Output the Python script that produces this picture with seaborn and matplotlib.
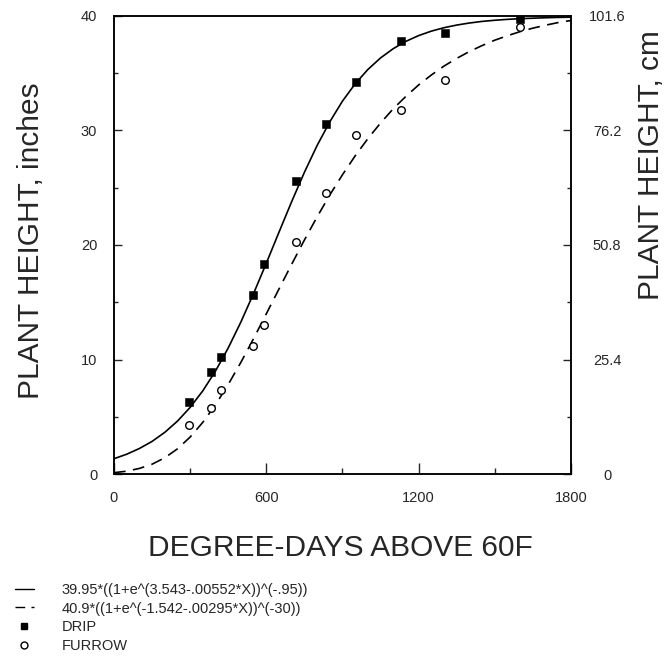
import matplotlib
matplotlib.use("Agg")
import matplotlib.pyplot as plt
from matplotlib.lines import Line2D
from matplotlib.ticker import MultipleLocator, FixedLocator
import seaborn as sns
import pandas as pd

# datos
grados_dia = [296, 381, 423, 546, 590, 717, 835, 955, 1132, 1303, 1601]
altura_goteo = [6.3, 8.9, 10.2, 15.6, 18.3, 25.6, 30.6, 34.2, 37.8, 38.5, 39.7]
altura_surco = [4.3, 5.8, 7.3, 11.2, 13.0, 20.3, 24.5, 29.6, 31.8, 34.4, 39.0]

# curvas ajustadas, leidas cada 50 grados-dia
curva_x = [0, 50, 100, 150, 200, 250, 300, 350, 400, 450, 500, 550, 600, 650,
           700, 750, 800, 850, 900, 950, 1000, 1050, 1100, 1150, 1200, 1250,
           1300, 1350, 1400, 1450, 1500, 1550, 1600, 1650, 1700, 1750, 1800]
curva_goteo = [1.34, 1.73, 2.23, 2.85, 3.64, 4.62, 5.82, 7.27, 9.00, 11.01,
               13.28, 15.77, 18.41, 21.12, 23.79, 26.34, 28.68, 30.75, 32.56,
               34.07, 35.32, 36.33, 37.14, 37.78, 38.28, 38.67, 38.97, 39.20,
               39.38, 39.52, 39.62, 39.70, 39.76, 39.80, 39.84, 39.87, 39.89]
curva_surco = [0.12, 0.25, 0.49, 0.86, 1.42, 2.20, 3.23, 4.52, 6.05, 7.82,
               9.76, 11.83, 13.99, 16.16, 18.32, 20.43, 22.45, 24.36, 26.13,
               27.78, 29.28, 30.65, 31.89, 32.98, 33.97, 34.84, 35.62, 36.29,
               36.89, 37.41, 37.88, 38.27, 38.63, 38.93, 39.19, 39.42, 39.60]

etiquetas_leyenda = ["39.95*((1+e^(3.543-.00552*X))^(-.95))",
                     "40.9*((1+e^(-1.542-.00295*X))^(-30))",
                     "DRIP", "FURROW"]
ticks_x = [0, 600, 1200, 1800]
ticks_cm = [0, 25.4, 50.8, 76.2, 101.6]
etiquetas_cm = ["0", "25.4", "50.8", "76.2", "101.6"]

sns.set_theme(style="ticks")
plt.rcParams['font.family'] = ['Liberation Sans', 'DejaVu Sans']
plt.rcParams['axes.edgecolor'] = 'black'
plt.rcParams['axes.linewidth'] = 1.1

puntos = pd.DataFrame({'x': grados_dia, 'goteo': altura_goteo, 'surco': altura_surco})
curvas = pd.DataFrame({'x': curva_x, 'goteo': curva_goteo, 'surco': curva_surco})

fig = plt.figure(figsize=(6.69, 6.63), dpi=100)
ax = fig.add_axes([0.1704, 0.285, 0.683, 0.691])

sns.lineplot(data=curvas, x='x', y='goteo', ax=ax, color='black', linewidth=1.2)
sns.lineplot(data=curvas, x='x', y='surco', ax=ax, color='black', linewidth=1.2,
             linestyle=(0, (7, 4.5)))
sns.scatterplot(data=puntos, x='x', y='goteo', ax=ax, marker='s', color='black',
                edgecolor='black', s=26, zorder=3)
sns.scatterplot(data=puntos, x='x', y='surco', ax=ax, marker='o', color='white',
                edgecolor='black', linewidth=1.0, s=30, zorder=3)

ax.set_xlim(0, 1800)
ax.set_ylim(0, 40)
ax.xaxis.set_major_locator(FixedLocator(ticks_x))
ax.xaxis.set_minor_locator(MultipleLocator(300))
ax.yaxis.set_major_locator(MultipleLocator(10))
ax.yaxis.set_minor_locator(MultipleLocator(5))
ax.tick_params(axis='x', which='major', direction='in', length=8, width=1, pad=12, labelsize=10.5)
ax.tick_params(axis='x', which='minor', direction='in', length=4, width=1)
ax.tick_params(axis='y', which='major', direction='in', length=6, width=1, pad=12, labelsize=10.5)
ax.tick_params(axis='y', which='minor', direction='in', length=3, width=1)

ax.set_xlabel("DEGREE-DAYS ABOVE 60F", fontsize=21.5)
ax.set_ylabel("PLANT HEIGHT, inches", fontsize=21.5)
ax.xaxis.set_label_coords(0.495, -0.13)
ax.yaxis.set_label_coords(-0.15, 0.51)

ax2 = ax.twinx()
ax2.set_ylim(0, 101.6)
ax2.yaxis.set_major_locator(FixedLocator(ticks_cm))
ax2.yaxis.set_minor_locator(MultipleLocator(12.7))
ax2.set_yticklabels(etiquetas_cm)
ax2.tick_params(axis='y', which='major', direction='in', length=6, width=1, pad=26, labelsize=10.5)
ax2.tick_params(axis='y', which='minor', direction='in', length=3, width=1)
for t in ax2.get_yticklabels():
    t.set_horizontalalignment('center')
ax2.set_ylabel("PLANT HEIGHT, cm", fontsize=21.5)
ax2.yaxis.set_label_coords(1.145, 0.675)

manejadores = [
    Line2D([], [], color='black', linewidth=1.0),
    Line2D([], [], color='black', linewidth=1.0, linestyle=(0, (7, 4.5))),
    Line2D([], [], color='black', marker='s', linestyle='none', markersize=4.5),
    Line2D([], [], color='black', marker='o', markerfacecolor='white',
           linestyle='none', markersize=5),
]
fig.legend(manejadores, etiquetas_leyenda, loc='upper left', bbox_to_anchor=(0.022, 0.121),
           frameon=False, fontsize=10.5, handlelength=1.3, handletextpad=1.9,
           labelspacing=0.33, borderaxespad=0, borderpad=0)

fig.savefig("out.png", dpi=100)
